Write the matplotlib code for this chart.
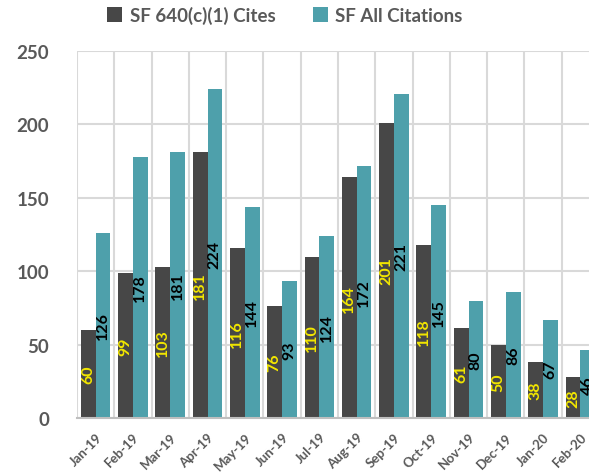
import matplotlib
matplotlib.use("Agg")
import matplotlib.pyplot as plt
import numpy as np

plt.rcParams['font.family'] = ['Lato', 'DejaVu Sans']

months = ["Jan-19", "Feb-19", "Mar-19", "Apr-19", "May-19", "Jun-19", "Jul-19",
          "Aug-19", "Sep-19", "Oct-19", "Nov-19", "Dec-19", "Jan-20", "Feb-20"]
cites_640 = [60, 99, 103, 181, 116, 76, 110, 164, 201, 118, 61, 50, 38, 28]
all_citations = [126, 178, 181, 224, 144, 93, 124, 172, 221, 145, 80, 86, 67, 46]
y_ticks = [0, 50, 100, 150, 200, 250]

dark = "#474747"
teal = "#4ea0ab"
gray_text = "#595959"

fig = plt.figure(figsize=(5.89, 4.77), dpi=100)
ax = fig.add_axes([77/589, 58/477, 522/589, 367/477])

x = np.arange(len(months))
w = 0.395
b1 = ax.bar(x - w/2, cites_640, width=w, color=dark, label="SF 640(c)(1) Cites", zorder=3)
b2 = ax.bar(x + w/2, all_citations, width=w, color=teal, label="SF All Citations", zorder=3)

ax.bar_label(b1, labels=[str(v) for v in cites_640], label_type='center', rotation=90,
             color="#f2e600", fontsize=11.5, fontweight='bold', zorder=4)
ax.bar_label(b2, labels=[str(v) for v in all_citations], label_type='center', rotation=90,
             color="black", fontsize=11.5, fontweight='bold', zorder=4)

ax.set_xlim(-0.5, len(months) - 0.5)
ax.set_ylim(0, 250)
ax.set_yticks(y_ticks)
ax.set_yticklabels([str(t) for t in y_ticks], fontsize=13.5, fontweight='bold', color=gray_text)
ax.set_xticks(x)
ax.set_xticklabels(months, rotation=45, ha='right', rotation_mode='anchor',
                   fontsize=9.5, fontweight='bold', color=gray_text)
ax.set_xticks(np.arange(-0.5, len(months), 1), minor=True)
ax.tick_params(axis='both', which='both', length=0)
ax.tick_params(axis='x', pad=9)
ax.tick_params(axis='y', pad=20)

ax.grid(axis='y', which='major', color="#d9d9d9", linewidth=1.5, zorder=0)
ax.grid(axis='x', which='minor', color="#d9d9d9", linewidth=1.5, zorder=0)
ax.grid(axis='x', which='major', visible=False)

for s in ['top', 'right', 'left']:
    ax.spines[s].set_visible(False)
ax.spines['bottom'].set_color("#bfbfbf")
ax.spines['bottom'].set_linewidth(1.5)
ax.spines['bottom'].set_zorder(5)

leg = fig.legend(handles=[b1, b2], loc='center', bbox_to_anchor=(285/589, 1 - 16/477),
                 ncol=2, frameon=False, fontsize=13.5, handlelength=0.8, handleheight=0.8,
                 handletextpad=0.4, columnspacing=2.0)
for t in leg.get_texts():
    t.set_fontweight('bold')
    t.set_color(gray_text)

fig.savefig("out.png", dpi=100)
